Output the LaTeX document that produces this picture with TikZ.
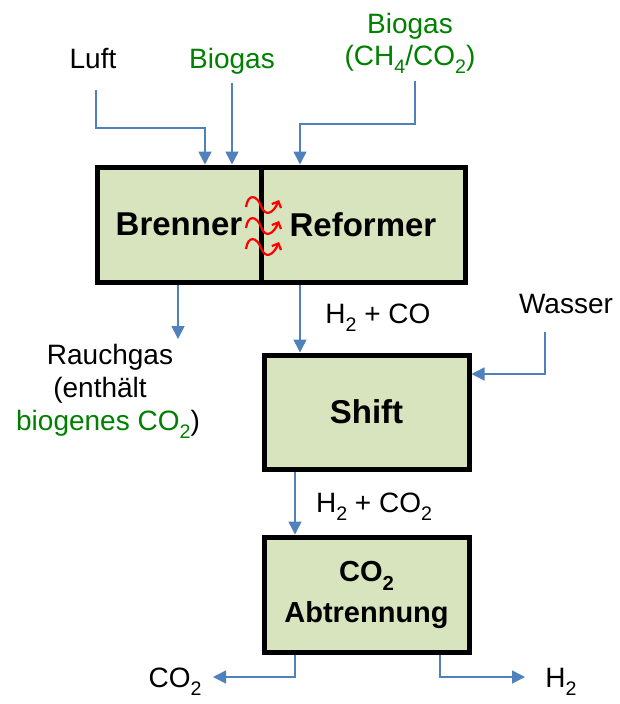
\documentclass[tikz,border=0pt]{standalone}
\usepackage{fontspec}
\setmainfont{Liberation Sans}
\usetikzlibrary{arrows.meta}
\definecolor{boxfill}{RGB}{215,228,189}
\definecolor{flowblue}{RGB}{79,129,189}
\definecolor{biogreen}{RGB}{0,128,0}
\newcommand{\sbs}[1]{\raisebox{-0.32em}{\scalebox{0.7}{#1}}}
\begin{document}
\begin{tikzpicture}[x=1pt,y=-1pt,
  unit/.style={draw=black,line width=5pt,fill=boxfill,inner sep=0pt,
    font=\fontsize{33}{36}\selectfont\bfseries},
  lbl/.style={inner sep=0pt,anchor=base,font=\fontsize{28}{33}\selectfont},
  flow/.style={draw=flowblue,line width=1.5pt,-{Triangle[length=13pt,width=13pt]}},
  heat/.style={draw=red,line width=2.2pt,-{Straight Barb[length=5pt,width=10pt]}}]
\useasboundingbox (0,0) rectangle (620,704);

% units
\node[unit,minimum width=164pt,minimum height=115pt] (brenner) at (179,224.5) {Brenner};
\node[unit,minimum width=204pt,minimum height=115pt] (reformer) at (363,224.5) {Reformer};
\node[unit,minimum width=205pt,minimum height=114pt] (shift) at (366.5,412) {Shift};
\node[unit,minimum width=205pt,minimum height=115pt,align=center,
  font=\fontsize{29}{41}\selectfont\bfseries] (co2box) at (366.5,594.5) {CO\sbs{2}\\Abtrennung};

% heat transfer
\foreach \dy in {0,21,42}{
  \draw[heat] (246,{207+\dy}) .. controls (248,{193+\dy}) and (257,{195+\dy}) .. (261,{206+\dy})
     .. controls (265,{217+\dy}) and (273,{214+\dy}) .. (279,{200+\dy});
}

% labels
\node[lbl] (luft) at (93,68) {Luft};
\node[lbl,text=biogreen] (biogas1) at (232,68) {Biogas};
\node[lbl,text=biogreen] (biogas2a) at (410,33) {Biogas};
\node[lbl,text=biogreen] (biogas2b) at (410,65) {(CH\sbs{4}/CO\sbs{2})};
\node[lbl] (rauch1) at (110,364) {Rauchgas};
\node[lbl] (rauch2) at (100,397) {(enthält};
\node[lbl] (rauch3) at (108,430) {{\color{biogreen}biogenes CO\sbs{2}})};
\node[lbl] (synlbl) at (378,323) {H\sbs{2} + CO};
\node[lbl] (wasser) at (566,313) {Wasser};
\node[lbl] (shlbl) at (374,512) {H\sbs{2} + CO\sbs{2}};
\node[lbl] (co2lbl) at (175,687) {CO\sbs{2}};
\node[lbl] (h2lbl) at (561,687) {H\sbs{2}};

% connector coordinates
\coordinate (luftin) at (96,90);
\coordinate (luftturn) at (205,128);
\coordinate (bio1in) at (232,83);
\coordinate (bio2in) at (415,81);
\coordinate (bio2turn) at (300,124);
\coordinate (rauchout) at (178,339);
\coordinate (synx) at (300,0);
\coordinate (wasserin) at (545,332);
\coordinate (wasserturn) at (545,374);
\coordinate (shx) at (295,0);
\coordinate (co2out) at (213,677);
\coordinate (h2x) at (440,0);
\coordinate (h2out) at (525,677);

% connectors
\draw[flow] (luftin) |- (luftturn) -- (luftturn |- brenner.north);
\draw[flow] (bio1in) -- (bio1in |- brenner.north);
\draw[flow] (bio2in) |- (bio2turn) -- (bio2turn |- reformer.north);
\draw[flow] (rauchout |- brenner.south) -- (rauchout);
\draw[flow] (synx |- reformer.south) -- (synx |- shift.north);
\draw[flow] (wasserin) -- (wasserturn) -- (wasserturn -| shift.east);
\draw[flow] (shx |- shift.south) -- (shx |- co2box.north);
\draw[flow] (shx |- co2box.south) |- (co2out);
\draw[flow] (h2x |- co2box.south) |- (h2out);
\end{tikzpicture}
\end{document}
